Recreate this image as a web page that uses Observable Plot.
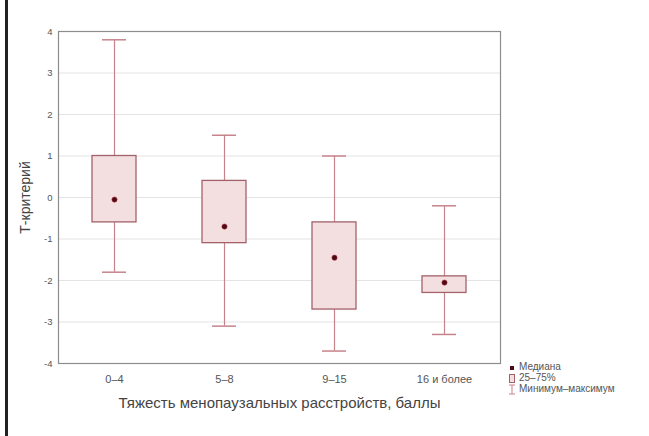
<!DOCTYPE html>
<html>
<head>
<meta charset="utf-8">
<script src="https://cdn.jsdelivr.net/npm/d3@7"></script>
<script src="https://cdn.jsdelivr.net/npm/@observablehq/plot@0.6"></script>
<style>
  html, body { margin: 0; padding: 0; background: #fff; }
  #wrap { position: relative; width: 649px; height: 436px; overflow: hidden; font-family: "Liberation Sans", Arial, sans-serif; }
  #border { position: absolute; left: 5px; top: 0; width: 3px; height: 436px; background: #222; }
  #legend { position: absolute; left: 508px; top: 362px; font-size: 10px; color: #555; line-height: 10.5px; }
  #legend div { display: flex; align-items: center; white-space: nowrap; }
  #legend svg { margin-right: 3px; }
</style>
</head>
<body>
<div id="wrap">
  <div id="border"></div>
  <div id="chart"></div>
  <div id="legend"></div>
</div>
<script>
const categories = ["0–4", "5–8", "9–15", "16 и более"];
const minimum = [-1.8, -3.1, -3.7, -3.3];
const q1 = [-0.6, -1.1, -2.7, -2.3];
const median = [-0.05, -0.7, -1.45, -2.05];
const q3 = [1.0, 0.4, -0.6, -1.9];
const maximum = [3.8, 1.5, 1.0, -0.2];
const yTicks = [-4, -3, -2, -1, 0, 1, 2, 3, 4];
const legendLabels = ["Медиана", "25–75%", "Минимум–максимум"];

const data = categories.map((c, i) => ({
  cat: c, min: minimum[i], q1: q1[i], med: median[i], q3: q3[i], max: maximum[i]
}));

const boxFill = "#f3dfe0", boxStroke = "#a3616a", whisker = "#c7838c", medColor = "#4a0a16";

const chart = Plot.plot({
  width: 649,
  height: 436,
  marginLeft: 58,
  marginRight: 149,
  marginTop: 31,
  marginBottom: 73,
  style: { fontFamily: "Liberation Sans, Arial, sans-serif", background: "transparent", color: "#444" },
  x: { domain: categories, padding: 0, label: null },
  y: { domain: [-4, 4], label: null },
  marks: [
    Plot.ruleY(yTicks, { stroke: "#e4e4e4", strokeWidth: 1 }),
    Plot.ruleX(data, { x: "cat", y1: "min", y2: "max", stroke: whisker, strokeWidth: 1.2 }),
    Plot.tickY(data, { x: "cat", y: "min", stroke: whisker, strokeWidth: 1.5, inset: 43 }),
    Plot.tickY(data, { x: "cat", y: "max", stroke: whisker, strokeWidth: 1.5, inset: 43 }),
    Plot.barY(data, { x: "cat", y1: "q1", y2: "q3", fill: boxFill, stroke: boxStroke, strokeWidth: 1.3, insetLeft: 33, insetRight: 33 }),
    Plot.dot(data, { x: "cat", y: "med", r: 2.6, fill: medColor, stroke: "#b03040", strokeWidth: 0.6 }),
    Plot.frame({ stroke: "#8c8c8c", strokeWidth: 1.2 }),
    Plot.axisY(yTicks, { tickSize: 0, tickPadding: 6, fontSize: 9.5, fill: "#555", tickFormat: d => String(d), label: "Т-критерий", labelAnchor: "center", labelArrow: "none", labelOffset: 38 }),
    Plot.axisX({ anchor: "bottom", tickSize: 0, tickPadding: 12, fontSize: 11, fill: "#555", label: "Тяжесть менопаузальных расстройств, баллы", labelAnchor: "center", labelArrow: "none", labelOffset: 44 }),
    Plot.axisX({ anchor: "top", tickSize: 0, tickFormat: () => "", label: null })
  ]
});
chart.querySelectorAll("g[aria-label='y-axis label'] text, g[aria-label='y-axis label']").forEach(e => { e.setAttribute("font-size", "14"); e.setAttribute("fill", "#444"); });
chart.querySelectorAll("g[aria-label='x-axis label'] text, g[aria-label='x-axis label']").forEach(e => { e.setAttribute("font-size", "15"); e.setAttribute("fill", "#444"); });
document.getElementById("chart").appendChild(chart);

const icons = [
  `<svg width="8" height="9"><rect x="2" y="3" width="4" height="4" fill="${medColor}"/></svg>`,
  `<svg width="8" height="11"><rect x="1.5" y="1.5" width="5" height="8" fill="${boxFill}" stroke="${boxStroke}"/></svg>`,
  `<svg width="8" height="11"><line x1="4" y1="1" x2="4" y2="10" stroke="${whisker}"/><line x1="1" y1="1" x2="7" y2="1" stroke="${whisker}"/><line x1="1" y1="10" x2="7" y2="10" stroke="${whisker}"/></svg>`
];
document.getElementById("legend").innerHTML = legendLabels.map((l, i) => `<div>${icons[i]}<span>${l}</span></div>`).join("");
</script>
</body>
</html>
